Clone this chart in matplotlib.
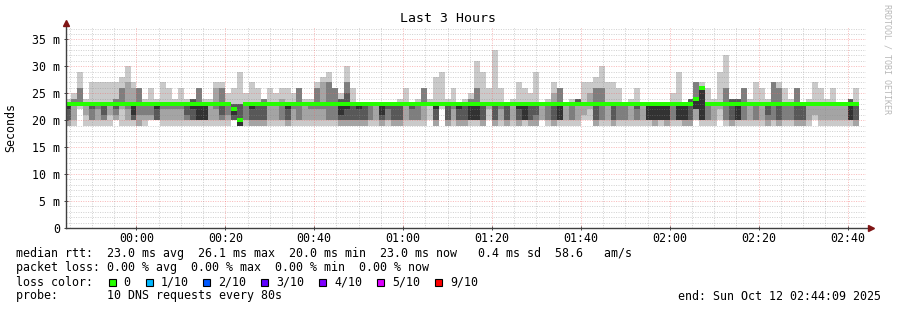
import numpy as np
import matplotlib
matplotlib.use("Agg")
import matplotlib.pyplot as plt
from matplotlib.patches import Rectangle

plt.rcParams['font.family'] = ['DejaVu Sans Mono']

# sorted pings per 80 s step (ms), ping6 is the median
ping1 = [19, 19, 22, 19, 19, 19, 19, 19, 20, 19, 19, 19, 19, 19, 20, 20, 19, 19, 19, 19,
         19, 19, 19, 19, 19, 19, 19, 19, 20, 19, 19, 19, 19, 19, 19, 19, 19, 19, 19, 19,
         19, 19, 19, 19, 19, 19, 19, 19, 19, 19, 19, 19, 19, 19, 19, 19, 19, 19, 19, 19,
         19, 20, 19, 22, 19, 19, 19, 19, 19, 19, 19, 20, 19, 19, 19, 19, 19, 19, 19, 19,
         20, 19, 19, 19, 19, 19, 19, 20, 20, 19, 19, 19, 19, 19, 19, 19, 19, 19, 19, 19,
         19, 19, 19, 19, 19, 19, 20, 19, 19, 19, 20, 19, 19, 19, 19, 19, 19, 19, 19, 19,
         19, 19, 19, 19, 19, 19, 20, 19, 19, 19, 19, 19, 19, 19]
ping2 = [19, 20, 23, 21, 20, 20, 20, 21, 20, 22, 20, 20, 19, 20, 20, 20, 20, 20, 20, 20,
         20, 20, 20, 20, 20, 20, 20, 20, 20, 19, 20, 19, 19, 19, 20, 20, 20, 19, 20, 20,
         20, 20, 20, 20, 20, 20, 19, 19, 19, 19, 19, 20, 20, 19, 20, 19, 19, 20, 20, 20,
         20, 23, 19, 23, 19, 20, 19, 19, 20, 20, 19, 22, 19, 20, 19, 20, 19, 20, 19, 19,
         20, 20, 19, 20, 20, 20, 20, 21, 22, 19, 20, 20, 19, 20, 20, 20, 20, 20, 20, 19,
         20, 19, 20, 20, 19, 19, 20, 20, 20, 20, 22, 20, 19, 20, 20, 20, 20, 20, 19, 20,
         19, 20, 20, 19, 19, 20, 21, 20, 20, 20, 20, 20, 20, 19]
ping3 = [20, 23, 23, 23, 20, 22, 20, 23, 21, 23, 22, 20, 21, 21, 21, 20, 22, 22, 22, 22,
         20, 20, 20, 20, 23, 22, 20, 21, 20, 19, 20, 20, 20, 20, 23, 23, 20, 20, 22, 20,
         23, 22, 22, 22, 20, 20, 20, 20, 20, 20, 20, 20, 23, 20, 20, 20, 20, 23, 20, 20,
         23, 23, 20, 23, 20, 22, 20, 20, 20, 20, 20, 23, 20, 22, 20, 23, 20, 20, 20, 20,
         23, 20, 20, 20, 23, 20, 23, 23, 23, 20, 20, 23, 20, 20, 20, 23, 20, 23, 20, 20,
         20, 20, 20, 20, 20, 20, 22, 20, 20, 23, 23, 20, 20, 20, 20, 23, 20, 23, 20, 20,
         20, 20, 20, 20, 20, 23, 23, 23, 23, 23, 23, 23, 20, 20]
ping4 = [20, 23, 23, 23, 22, 23, 21, 23, 22, 23, 23, 20, 23, 23, 23, 20, 23, 23, 23, 23,
         21, 20, 20, 20, 23, 23, 21, 23, 20, 19, 23, 20, 20, 20, 23, 23, 23, 20, 23, 23,
         23, 23, 23, 23, 23, 23, 20, 20, 20, 20, 20, 23, 23, 20, 22, 20, 20, 23, 22, 23,
         23, 23, 20, 23, 20, 23, 20, 20, 20, 20, 20, 23, 20, 23, 20, 23, 20, 20, 20, 21,
         23, 23, 20, 20, 23, 23, 23, 23, 23, 20, 23, 23, 20, 23, 23, 23, 22, 23, 20, 20,
         20, 20, 23, 20, 20, 20, 22, 20, 23, 23, 23, 23, 20, 20, 23, 23, 23, 23, 21, 23,
         20, 23, 23, 20, 20, 23, 23, 23, 23, 23, 23, 23, 20, 20]
ping5 = [22, 23, 23, 23, 23, 23, 23, 23, 23, 23, 23, 21, 23, 23, 23, 22, 23, 23, 23, 23,
         23, 22, 20, 20, 23, 23, 23, 23, 21, 19, 23, 22, 23, 23, 23, 23, 23, 22, 23, 23,
         23, 23, 23, 23, 23, 23, 21, 22, 23, 22, 23, 23, 23, 21, 23, 23, 23, 23, 23, 23,
         23, 23, 22, 23, 23, 23, 22, 23, 20, 20, 23, 23, 23, 23, 23, 23, 22, 20, 23, 23,
         23, 23, 23, 20, 23, 23, 23, 23, 23, 23, 23, 23, 23, 23, 23, 23, 23, 23, 20, 20,
         20, 20, 23, 20, 20, 23, 22, 20, 23, 23, 23, 23, 23, 20, 23, 23, 23, 23, 23, 23,
         23, 23, 23, 23, 23, 23, 23, 23, 23, 23, 23, 23, 20, 23]
ping6 = [23, 23, 23, 23, 23, 23, 23, 23, 23, 23, 23, 23, 23, 23, 23, 23, 23, 23, 23, 23,
         23, 23, 23, 23, 23, 23, 23, 23, 22, 20, 23, 23, 23, 23, 23, 23, 23, 23, 23, 23,
         23, 23, 23, 23, 23, 23, 23, 23, 23, 23, 23, 23, 23, 23, 23, 23, 23, 23, 23, 23,
         23, 23, 23, 23, 23, 23, 23, 23, 23, 23, 23, 23, 23, 23, 23, 23, 23, 23, 23, 23,
         23, 23, 23, 23, 23, 23, 23, 23, 23, 23, 23, 23, 23, 23, 23, 23, 23, 23, 23, 23,
         23, 23, 23, 23, 23, 23, 24, 26, 23, 23, 23, 23, 23, 23, 23, 23, 23, 23, 23, 23,
         23, 23, 23, 23, 23, 23, 23, 23, 23, 23, 23, 23, 23, 23]
ping7 = [23, 23, 23, 23, 23, 23, 23, 23, 23, 23, 23, 23, 23, 23, 23, 23, 23, 23, 23, 23,
         23, 24, 23, 23, 23, 23, 23, 23, 23, 23, 23, 23, 23, 23, 23, 23, 23, 23, 23, 23,
         23, 23, 23, 23, 23, 23, 24, 25, 23, 23, 23, 23, 23, 23, 23, 23, 23, 23, 23, 23,
         23, 23, 23, 23, 23, 23, 23, 23, 23, 23, 23, 23, 23, 23, 23, 23, 23, 23, 23, 23,
         23, 23, 23, 23, 23, 23, 24, 23, 23, 23, 23, 23, 23, 23, 23, 23, 23, 23, 23, 23,
         23, 23, 23, 23, 23, 24, 24, 26, 23, 23, 23, 23, 24, 24, 23, 23, 23, 23, 23, 23,
         23, 23, 23, 23, 23, 23, 23, 23, 23, 23, 23, 23, 24, 23]
ping8 = [23, 24, 26, 23, 23, 23, 23, 23, 24, 26, 23, 23, 26, 23, 23, 23, 23, 23, 23, 23,
         23, 24, 26, 23, 23, 23, 26, 23, 23, 23, 23, 23, 23, 24, 23, 23, 23, 23, 23, 26,
         23, 23, 26, 23, 27, 26, 24, 27, 23, 23, 23, 23, 23, 23, 23, 23, 23, 23, 23, 23,
         26, 23, 23, 23, 23, 23, 23, 23, 24, 26, 23, 23, 23, 23, 23, 23, 23, 23, 23, 23,
         23, 23, 23, 26, 23, 23, 24, 23, 23, 26, 26, 23, 23, 23, 23, 23, 23, 23, 23, 23,
         23, 23, 23, 23, 23, 24, 27, 26, 23, 23, 23, 26, 24, 24, 26, 23, 23, 23, 23, 27,
         26, 23, 23, 26, 23, 23, 23, 23, 23, 23, 23, 23, 24, 23]
ping9 = [23, 24, 26, 23, 23, 23, 23, 23, 24, 26, 27, 26, 26, 23, 23, 23, 23, 23, 23, 23,
         23, 24, 26, 23, 23, 26, 26, 23, 23, 23, 23, 23, 23, 24, 23, 23, 24, 23, 23, 26,
         23, 23, 26, 27, 27, 26, 24, 27, 23, 23, 23, 23, 23, 23, 23, 23, 23, 23, 23, 23,
         26, 23, 23, 23, 23, 23, 23, 23, 24, 26, 23, 23, 23, 23, 23, 23, 23, 23, 23, 23,
         23, 23, 25, 26, 23, 23, 24, 23, 25, 26, 26, 23, 23, 23, 23, 23, 23, 23, 23, 23,
         23, 23, 23, 23, 23, 24, 27, 26, 23, 23, 23, 26, 24, 24, 26, 23, 23, 23, 23, 27,
         26, 23, 23, 26, 23, 23, 23, 23, 23, 23, 23, 23, 24, 23]
ping10 = [24, 25, 29, 24, 27, 27, 27, 27, 27, 28, 30, 27, 26, 24, 26, 24, 27, 26, 24, 26,
          24, 24, 26, 24, 24, 27, 27, 25, 26, 29, 25, 27, 26, 24, 26, 25, 26, 26, 25, 26,
          24, 24, 27, 28, 29, 26, 25, 30, 26, 23, 23, 23, 23, 23, 23, 23, 24, 26, 23, 24,
          26, 24, 28, 29, 24, 26, 23, 24, 25, 31, 29, 26, 33, 26, 23, 24, 27, 26, 25, 29,
          23, 24, 27, 26, 23, 24, 24, 27, 27, 28, 30, 27, 27, 26, 23, 24, 26, 23, 23, 23,
          23, 23, 25, 29, 23, 24, 27, 27, 26, 24, 29, 32, 24, 24, 26, 24, 27, 26, 24, 27,
          27, 26, 24, 26, 23, 24, 27, 26, 24, 26, 23, 23, 24, 26]

pings = np.array([ping1, ping2, ping3, ping4, ping5, ping6, ping7, ping8, ping9, ping10])
median = pings[5]

step = 80 / 60.0  # minutes
t = -16 + np.arange(pings.shape[1]) * step
t_start, t_end = -15.85, 164.15

tick_pos = [0, 20, 40, 60, 80, 100, 120, 140, 160]
tick_labels = ["00:00", "00:20", "00:40", "01:00", "01:20", "01:40", "02:00", "02:20", "02:40"]

smoke_colors = ["#cacaca", "#a4a4a4", "#7e7e7e", "#585858", "#323232"]
loss_labels = ["0", "1/10", "2/10", "3/10", "4/10", "5/10", "9/10"]
loss_colors = ["#26ff00", "#00b8ff", "#0059ff", "#5e00ff", "#7e00ff", "#dd00ff", "#ff0000"]

W, H = 897, 310
fig = plt.figure(figsize=(W / 100, H / 100), dpi=100)

def fx(x):
    return x / W

def fy(y):
    return 1 - y / H

y_top = 27.4
ax = fig.add_axes([fx(66), fy(228), (866 - 66) / W, (228 - y_top) / H])
ax.set_xlim(t_start, t_end)
ax.set_ylim(0, (228 - y_top) / 5.391)

# smoke bands, outer pair first
for k in range(5):
    lo = pings[k]
    hi = pings[9 - k]
    ax.bar(t, hi - lo, bottom=lo, width=step, align='edge', color=smoke_colors[k],
           linewidth=0, antialiased=False, zorder=1)

# median bar
ax.bar(t, 0.74, bottom=median - 0.37, width=step, align='edge', color=loss_colors[0],
       linewidth=0, antialiased=False, zorder=4)

# grid
minor_c = (0.55, 0.55, 0.55, 0.4)
major_c = (0.95, 0.4, 0.4, 0.45)
for v in range(1, 38):
    c = major_c if v % 5 == 0 else minor_c
    ax.axhline(v, color=c, lw=0.72, dashes=(1, 1.4), zorder=3)
for m in np.arange(-15, 165, 5):
    c = major_c if m % 20 == 0 else minor_c
    ax.axvline(m, color=c, lw=0.72, dashes=(1, 1.4), zorder=3)

for s in ax.spines.values():
    s.set_visible(False)

ax.set_xticks(tick_pos)
ax.set_xticklabels(tick_labels)
yt = [0, 5, 10, 15, 20, 25, 30, 35]
ax.set_yticks(yt)
ax.set_yticklabels(["0" if v == 0 else f"{v} m" for v in yt])
ax.tick_params(axis='both', labelsize=8.4, colors='#404040', labelcolor='#000000',
               direction='inout', length=3, width=0.7)
ax.tick_params(axis='x', pad=1.5)
ax.tick_params(axis='y', pad=3)

# axis lines with arrows
axc = '#404040'
arr = '#7f1414'
fig.add_artist(plt.Line2D([fx(66), fx(66)], [fy(228), fy(24)], color=axc, lw=1.0))
fig.add_artist(plt.Line2D([fx(66), fx(870)], [fy(228), fy(228)], color=axc, lw=1.0))
fig.add_artist(plt.Line2D([fx(66)], [fy(23)], marker='^', markersize=4.5, color=arr, lw=0))
fig.add_artist(plt.Line2D([fx(871)], [fy(228)], marker='>', markersize=4.5, color=arr, lw=0))

# titles
fig.text(fx(448), fy(19), "Last 3 Hours", ha='center', va='center', fontsize=9.5)
fig.text(fx(11), fy(127), "Seconds", ha='center', va='center', rotation=90, fontsize=8.4)
fig.text(fx(887), fy(59), "RRDTOOL / TOBI OETIKER", ha='center', va='center',
         rotation=270, fontsize=6.0, color='#b8b8b8')

# legend block
fs = 8.4
fig.text(fx(16), fy(254), "median rtt:  23.0 ms avg  26.1 ms max  20.0 ms min  23.0 ms now   0.4 ms sd  58.6   am/s",
         va='center', fontsize=fs)
fig.text(fx(16), fy(268), "packet loss: 0.00 % avg  0.00 % max  0.00 % min  0.00 % now",
         va='center', fontsize=fs)
fig.text(fx(16), fy(282), "loss color:", va='center', fontsize=fs)
box_x = [109, 146, 203, 261, 319, 377, 435]
lab_x = [123, 161, 218, 276, 334, 392, 450]
for bx, lx, lab, col in zip(box_x, lab_x, loss_labels, loss_colors):
    fig.add_artist(Rectangle((fx(bx), fy(285.5)), 7 / W, 7 / H, transform=fig.transFigure,
                             facecolor=col, edgecolor='black', lw=0.8))
    fig.text(fx(lx), fy(282), lab, va='center', fontsize=fs)
fig.text(fx(16), fy(296), "probe:       10 DNS requests every 80s", va='center', fontsize=fs)
fig.text(fx(881), fy(296), "end: Sun Oct 12 02:44:09 2025", ha='right', va='center', fontsize=fs)

fig.savefig("out.png", dpi=100)
